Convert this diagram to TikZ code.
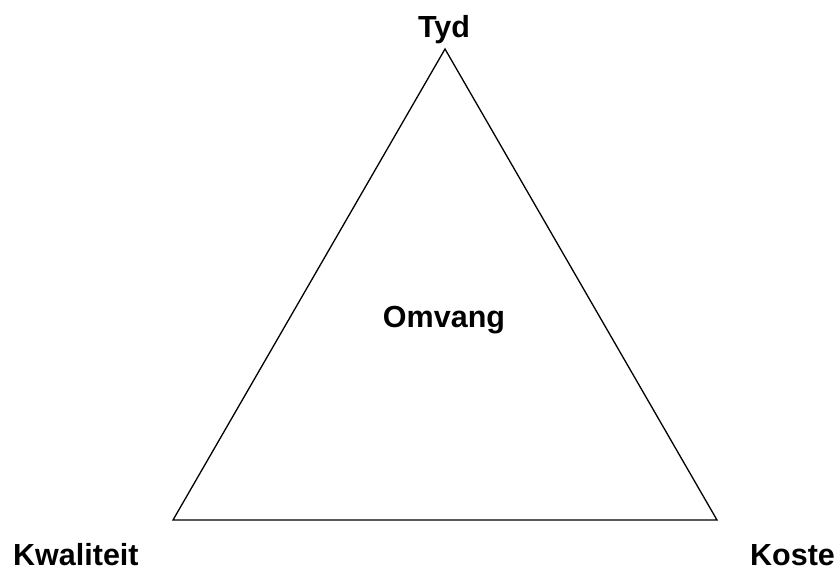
\documentclass[tikz,border=0pt]{standalone}
\usepackage{fontspec}
\setmainfont{Liberation Sans}
\begin{document}
\begin{tikzpicture}[x=1pt,y=-1pt,
  lbl/.style={font=\fontsize{30.5}{36}\selectfont\bfseries, inner sep=0pt, text=black},
  edge/.style={draw=black, line width=1.3pt, line join=miter}]
\useasboundingbox (0,0) rectangle (837,568);
\coordinate (T) at (445,49);
\coordinate (L) at (173,520);
\coordinate (R) at (717,520);
\draw[edge] (T) -- (L) -- (R) -- cycle;
\node[lbl, anchor=base] (tyd) at (444,37) {Tyd};
\node[lbl, anchor=base] (omv) at (444,327) {Omvang};
\node[lbl, anchor=base west] (kw) at (13,565) {Kwaliteit};
\node[lbl, anchor=base west] (ko) at (750,565) {Koste};
\end{tikzpicture}
\end{document}
